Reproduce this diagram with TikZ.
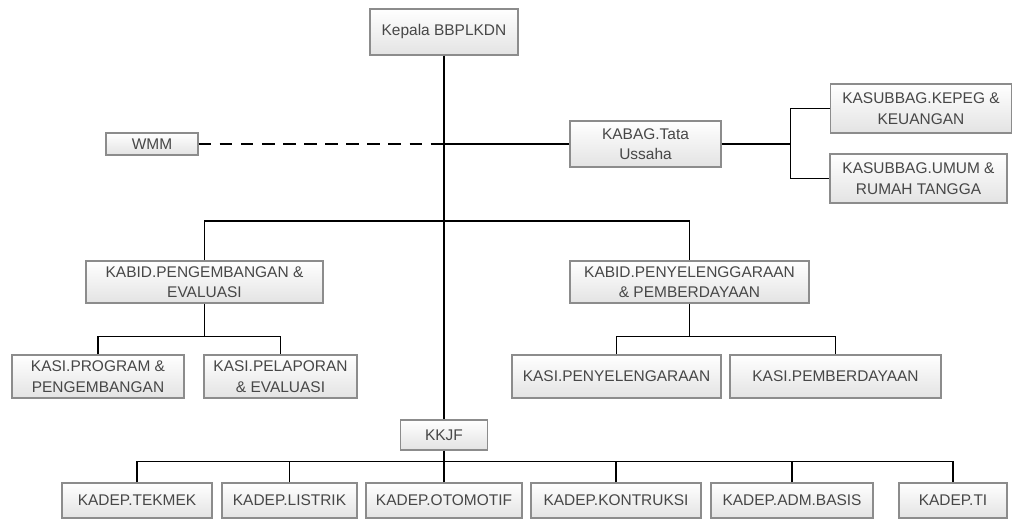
\documentclass[tikz,border=0pt]{standalone}
\usepackage{fontspec}
\setmainfont{Liberation Sans}
\tikzset{
  unit/.style={draw=gray!90, line width=0.9pt, top color=white, bottom color=gray!22,
    text=black!72, align=center, inner sep=0pt, font=\fontsize{11}{14.5}\selectfont},
  link/.style={line width=1.2pt}
}
\begin{document}
\begin{tikzpicture}[x=0.025cm,y=-0.025cm]
\useasboundingbox (0,0) rectangle (1013,519);
\node[unit, minimum width=148*0.025cm, minimum height=46*0.025cm] (kepala) at (444,32) {Kepala BBPLKDN};
\node[unit, minimum width=92*0.025cm, minimum height=22*0.025cm] (wmm) at (152,144) {WMM};
\node[unit, minimum width=151*0.025cm, minimum height=46*0.025cm] (kabag) at (645.5,144) {KABAG.Tata\\Ussaha};
\node[unit, minimum width=181*0.025cm, minimum height=49*0.025cm] (kepeg) at (921,108.5) {KASUBBAG.KEPEG \&\\KEUANGAN};
\node[unit, minimum width=177*0.025cm, minimum height=49*0.025cm] (umum) at (918.5,178.5) {KASUBBAG.UMUM \&\\RUMAH TANGGA};
\node[unit, minimum width=237*0.025cm, minimum height=42*0.025cm] (kabidpe) at (204.5,282) {KABID.PENGEMBANGAN \&\\EVALUASI};
\node[unit, minimum width=239*0.025cm, minimum height=42*0.025cm] (kabidpp) at (689.5,282) {KABID.PENYELENGGARAAN\\\& PEMBERDAYAAN};
\node[unit, minimum width=172*0.025cm, minimum height=43*0.025cm] (kasiprog) at (98,376.5) {KASI.PROGRAM \&\\PENGEMBANGAN};
\node[unit, minimum width=153*0.025cm, minimum height=43*0.025cm] (kasilap) at (280.5,376.5) {KASI.PELAPORAN\\\& EVALUASI};
\node[unit, minimum width=209*0.025cm, minimum height=43*0.025cm] (kasipeny) at (616.5,376.5) {KASI.PENYELENGARAAN};
\node[unit, minimum width=211*0.025cm, minimum height=43*0.025cm] (kasipemb) at (835.5,376.5) {KASI.PEMBERDAYAAN};
\node[unit, minimum width=87*0.025cm, minimum height=30*0.025cm] (kkjf) at (444,435) {KKJF};
\foreach \n/\x/\w/\t in {tekmek/137/150/TEKMEK, listrik/289.5/135/LISTRIK, otomotif/444/156/OTOMOTIF,
  kontruksi/616/170/KONTRUKSI, adm/792/162/ADM.BASIS, ti/953/108/TI}
  \node[unit, minimum width=\w*0.025cm, minimum height=35*0.025cm] (\n) at (\x,500.5) {KADEP.\t};
\draw[link] (kepala.south) -- (kkjf.north);
\draw[link, dashed, dash pattern=on 9pt off 6pt] (wmm.east) -- (wmm.east -| kepala.south);
\draw[link] (kabag.west) -- (kabag.west -| kepala.south);
\draw[link] (kabag.east) -- ++(69,0) coordinate (tu);
\draw[link] (kepeg.west) -| (tu) |- (umum.west);
\coordinate (bus1) at (444,221);
\draw[link] (kabidpe.north) |- (bus1) -| (kabidpp.north);
\draw[link] (kabidpe.south) -- ++(0,33) coordinate (bus2);
\draw[link] (kasiprog.north) |- (bus2) -| (kasilap.north);
\draw[link] (kabidpp.south) -- ++(0,33) coordinate (bus3);
\draw[link] (kasipeny.north) |- (bus3) -| (kasipemb.north);
\draw[link] (kkjf.south) -- ++(0,11) coordinate (bus4);
\draw[link] (tekmek.north) |- (bus4) -| (ti.north);
\foreach \n in {listrik,otomotif,kontruksi,adm} \draw[link] (\n.north) -- (\n.north |- bus4);
\end{tikzpicture}
\end{document}
